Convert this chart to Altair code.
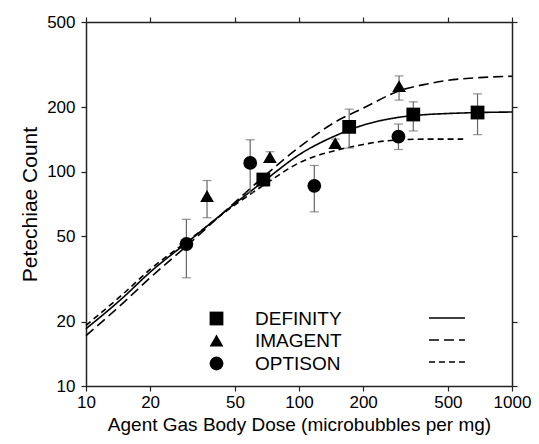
import altair as alt
import pandas as pd

agents = ["DEFINITY", "IMAGENT", "OPTISON"]
shapes = ["square", "triangle-up", "circle"]
dashes = [[1, 0], [10, 5], [6, 4]]

# measured points (mean, lower, upper)
def_x = [68, 172, 344, 689]
def_y = [92, 162, 185, 189]
def_lo = [86, 129, 155, 149]
def_hi = [98, 196, 212, 231]

ima_x = [37, 73, 148, 295]
ima_y = [77, 117, 136, 251]
ima_lo = [61, 111, 130, 216]
ima_hi = [91, 124, 142, 280]

opt_x = [29.6, 59, 118, 293]
opt_y = [46, 110, 86, 146]
opt_lo = [32, 80, 65, 127]
opt_hi = [60, 141, 107, 167]

# fitted curves
def_fx = [10, 15, 20, 30, 50, 70, 100, 150, 200, 300, 400, 500, 700, 1000]
def_fy = [18.5, 26, 34, 47, 71, 92, 120, 148, 165, 180, 185, 187, 189, 190]
ima_fx = [10, 15, 20, 30, 50, 70, 100, 150, 200, 300, 400, 500, 700, 1000]
ima_fy = [17.2, 24.5, 32, 45.5, 72, 97, 130, 172, 198, 240, 257, 267, 275, 279]
opt_fx = [10, 15, 20, 30, 50, 70, 100, 150, 200, 250, 300, 400, 590]
opt_fy = [19.2, 27, 35, 47.5, 70, 88, 110, 126, 134, 139, 141, 142, 142]

x_ticks = [10, 20, 50, 100, 200, 500, 1000]
y_ticks = [10, 20, 50, 100, 200, 500]

pts = pd.concat([
    pd.DataFrame({"agent": "DEFINITY", "x": def_x, "y": def_y, "lo": def_lo, "hi": def_hi}),
    pd.DataFrame({"agent": "IMAGENT", "x": ima_x, "y": ima_y, "lo": ima_lo, "hi": ima_hi}),
    pd.DataFrame({"agent": "OPTISON", "x": opt_x, "y": opt_y, "lo": opt_lo, "hi": opt_hi}),
], ignore_index=True)

fits = pd.concat([
    pd.DataFrame({"fit": "DEFINITY", "x": def_fx, "y": def_fy}),
    pd.DataFrame({"fit": "IMAGENT", "x": ima_fx, "y": ima_fy}),
    pd.DataFrame({"fit": "OPTISON", "x": opt_fx, "y": opt_fy}),
], ignore_index=True)
fits["i"] = range(len(fits))

FONT = "Liberation Sans"
xs = alt.Scale(type="log", domain=[10, 1000], nice=False)
ys = alt.Scale(type="log", domain=[10, 500], nice=False)

common_axis = dict(grid=False, domainColor="#222", domainWidth=1.5, tickColor="#222",
                   tickWidth=1.2, tickSize=5, labelFont=FONT, titleFont=FONT,
                   labelColor="black", titleColor="black", titleFontWeight="normal")

x_axis = alt.Axis(values=x_ticks, format="d", title="Agent Gas Body Dose (microbubbles per mg)",
                  labelFontSize=17, titleFontSize=19, labelPadding=3, titlePadding=5,
                  labelFlush=False, **common_axis)
y_axis = alt.Axis(values=y_ticks, format="d", title="Petechiae Count",
                  labelFontSize=17, titleFontSize=21, labelPadding=6, titlePadding=6,
                  **common_axis)
x_top = alt.Axis(values=x_ticks, orient="top", labels=False, title="", **common_axis)
y_right = alt.Axis(values=y_ticks, orient="right", labels=False, title="", **common_axis)

lines = alt.Chart(fits).mark_line(interpolate="monotone", color="black", strokeWidth=1.6).encode(
    x=alt.X("x:Q", scale=xs, axis=x_axis),
    y=alt.Y("y:Q", scale=ys, axis=y_axis),
    strokeDash=alt.StrokeDash("fit:N", scale=alt.Scale(domain=agents, range=dashes),
                              legend=alt.Legend(orient="none", legendX=354, legendY=289,
                                                title=None, labelExpr="''",
                                                symbolType="M-3,0L3,0",
                                                symbolSize=144, symbolStrokeWidth=1.6,
                                                symbolStrokeColor="black", padding=0,
                                                rowPadding=11, labelFontSize=1, labelFont=FONT)),
    order="i:Q",
)

bars = alt.Chart(pts).mark_rule(color="#666", strokeWidth=1.2).encode(
    x=alt.X("x:Q", scale=xs, axis=None),
    y=alt.Y("lo:Q", scale=ys, axis=None),
    y2="hi:Q",
)
cap_lo = alt.Chart(pts).mark_tick(color="#666", thickness=1.2, size=9, orient="horizontal").encode(
    x=alt.X("x:Q", scale=xs, axis=None),
    y=alt.Y("lo:Q", scale=ys, axis=None),
)
cap_hi = alt.Chart(pts).mark_tick(color="#666", thickness=1.2, size=9, orient="horizontal").encode(
    x=alt.X("x:Q", scale=xs, axis=None),
    y=alt.Y("hi:Q", scale=ys, axis=None),
)

points = alt.Chart(pts).mark_point(filled=True, opacity=1, size=190, color="black").encode(
    x=alt.X("x:Q", scale=xs, axis=x_top),
    y=alt.Y("y:Q", scale=ys, axis=y_right),
    shape=alt.Shape("agent:N", scale=alt.Scale(domain=agents, range=shapes),
                    legend=alt.Legend(orient="none", legendX=121, legendY=287, title=None,
                                      symbolSize=190, symbolFillColor="black",
                                      symbolStrokeColor="black", labelFontSize=19,
                                      labelFont=FONT, labelColor="black", labelOffset=29,
                                      padding=0, rowPadding=2)),
)

chart = alt.layer(lines, bars, cap_lo, cap_hi, points).resolve_axis(
    x="independent", y="independent"
).resolve_legend(shape="independent", strokeDash="independent").properties(
    width=426, height=364,
    autosize=alt.AutoSizeParams(type="none"),
    padding={"left": 78, "top": 14, "right": 19, "bottom": 50},
).configure_view(stroke=None)

chart.save("out.html", embed_options={"renderer": "svg", "actions": False})
